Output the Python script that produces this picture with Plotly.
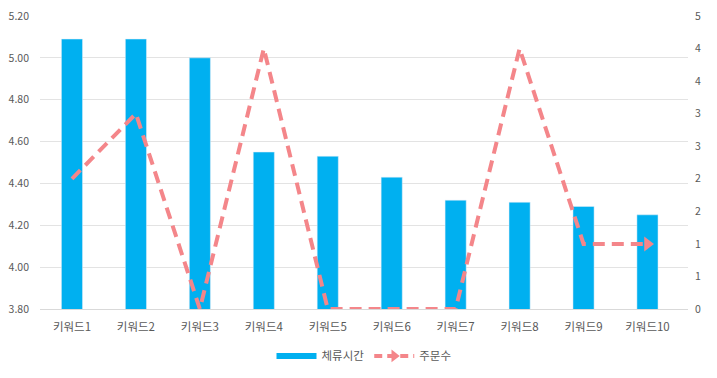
import plotly.graph_objects as go

categories = ["키워드1", "키워드2", "키워드3", "키워드4", "키워드5",
              "키워드6", "키워드7", "키워드8", "키워드9", "키워드10"]
dwell_time = [5.09, 5.09, 5.00, 4.55, 4.53, 4.43, 4.32, 4.31, 4.29, 4.25]
orders = [2, 3, 0, 4, 0, 0, 0, 4, 1, 1]

left_ticks = [3.8, 4.0, 4.2, 4.4, 4.6, 4.8, 5.0, 5.2]
right_ticks = [0, 0.5, 1, 1.5, 2, 2.5, 3, 3.5, 4, 4.5]
right_labels = ["0", "1", "1", "2", "2", "3", "3", "4", "4", "5"]

BLUE = "#00B0F0"
PINK = "#F4868A"
TXT = "#595959"
FONT = "Noto Sans CJK KR"

fig = go.Figure()
fig.add_trace(go.Bar(x=categories, y=dwell_time, marker_color=BLUE,
                     name="체류시간", showlegend=False, yaxis="y"))
fig.add_trace(go.Scatter(
    x=categories, y=orders, yaxis="y2", mode="lines",
    line=dict(color=PINK, width=4, dash="12px,7px"),
    name="주문수", showlegend=False))
# arrow head at the end of the line
fig.add_trace(go.Scatter(
    x=[categories[-1]], y=[orders[-1]], yaxis="y2", mode="markers",
    marker=dict(symbol="triangle-right", size=13, color=PINK),
    showlegend=False, hoverinfo="skip"))

# legend helpers
fig.add_trace(go.Scatter(x=[None], y=[None], mode="lines",
                         line=dict(color=BLUE, width=6), name="체류시간"))
fig.add_trace(go.Scatter(x=[None], y=[None], mode="lines+markers", yaxis="y2",
                         line=dict(color=PINK, width=4, dash="8px,5px"),
                         marker=dict(symbol="triangle-right", size=11, color=PINK),
                         name="주문수"))

fig.update_layout(
    width=717, height=378,
    margin=dict(l=40, r=29, t=16, b=69, autoexpand=False),
    paper_bgcolor="white", plot_bgcolor="white",
    font=dict(family=FONT, size=11, color=TXT),
    bargap=0.67,
    xaxis=dict(showgrid=False, showline=True, linecolor="#D9D9D9", linewidth=1,
               ticks="", tickfont=dict(size=11.5, color=TXT), automargin=False,
               ticklabelstandoff=7),
    yaxis=dict(range=[3.8, 5.2], tickvals=left_ticks,
               ticktext=[f"{v:.2f}" for v in left_ticks],
               showgrid=True, gridcolor="#E3E3E3", gridwidth=1,
               zeroline=False, showline=False, ticklabelstandoff=10,
               tickfont=dict(size=10.5, color=TXT), automargin=False),
    yaxis2=dict(range=[0, 4.5], tickvals=right_ticks, ticktext=right_labels,
                overlaying="y", side="right", showgrid=False, zeroline=False,
                showline=False, ticklabelstandoff=6,
                tickfont=dict(size=10.5, color=TXT), automargin=False),
    legend=dict(orientation="h", x=0.5, xanchor="center", y=-0.16, yanchor="middle",
                font=dict(size=11.5, color=TXT), itemwidth=40),
)

fig.write_html("out.html", config={"displayModeBar": False},
               post_script="document.body.style.margin='0';document.body.style.overflow='hidden';")
